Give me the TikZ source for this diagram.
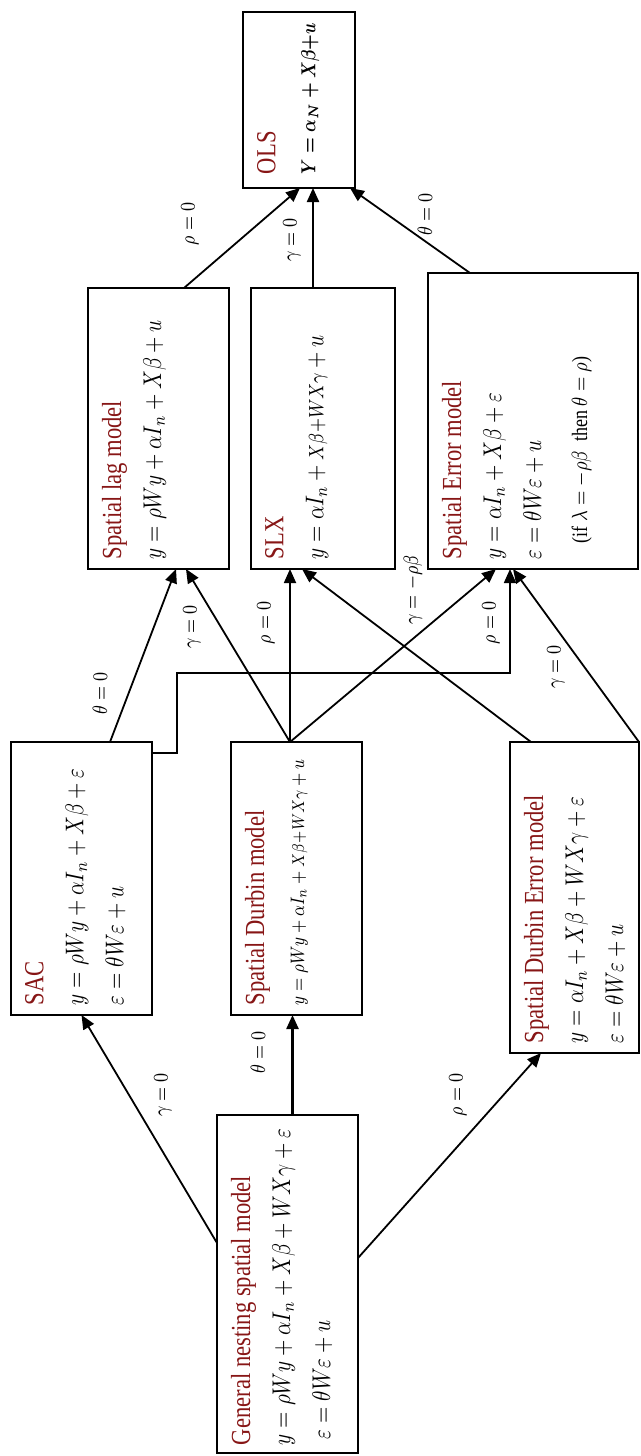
\RequirePackage{fix-cm}
\documentclass[tikz,border=0pt]{standalone}
\usepackage{fontspec}
\setmainfont{Liberation Serif}
\usetikzlibrary{arrows.meta,calc}
\definecolor{tred}{RGB}{135,22,22}
\newcommand{\vs}[1]{\scalebox{1}[1.22]{#1}}
\newcommand{\ttl}[1]{\vs{\fontsize{11.3}{20}\selectfont\color{tred}#1}}
\newcommand{\bx}[4]{\parbox[c][#2][t]{#1}{\raggedright\leftskip=#3\fontsize{10.5}{20}\selectfont\vspace*{7pt}#4}}
\newcommand{\cmpt}[1]{\mbox{\fontsize{8.5}{10}\selectfont$#1$}}
\tikzset{
  mbox/.style={draw, line width=1pt, rotate=90, inner sep=0pt, outer sep=0pt},
  arr/.style={-{Triangle[length=7pt,width=6pt]}, line width=0.9pt},
  lbl/.style={rotate=90, inner sep=1pt, font=\fontsize{8.5}{9}\selectfont}
}
\begin{document}
\begin{tikzpicture}[x=0.5pt,y=-0.5pt]
\useasboundingbox (0,0) rectangle (641,1456);
% boxes
\node[mbox] (ols) at (299,100) {\bx{88pt}{56pt}{7pt}{\ttl{OLS}\\ \vs{\fontsize{8.3}{20}\selectfont\boldmath$Y = \alpha_N + X\beta{+}u$}}};
\node[mbox] (lag) at (158.5,428.5) {\bx{140.5pt}{70.5pt}{5pt}{\ttl{Spatial lag model}\\ \vs{$y = \rho Wy + \alpha I_n + X\beta + u$}}};
\node[mbox] (slx) at (323,428.5) {\bx{140.5pt}{72pt}{5pt}{\ttl{SLX}\\ \vs{$y = \alpha I_n + \cmpt{X\beta{+}WX\gamma} + u$}}};
\node[mbox] (se) at (533,421) {\bx{148pt}{105pt}{5pt}{\ttl{Spatial Error model}\\ \vs{$y = \alpha I_n + X\beta + \varepsilon$}\\ \vs{$\varepsilon = \theta W\varepsilon + u$}\\[3pt] \hspace*{8pt}\vs{\fontsize{9}{20}\selectfont (if $\lambda = -\rho\beta$\ \ then $\theta = \rho$)}}};
\node[mbox] (sac) at (81.5,878.5) {\bx{136.5pt}{70.5pt}{5pt}{\ttl{SAC}\\ \vs{$y = \rho Wy + \alpha I_n + X\beta + \varepsilon$}\\ \vs{$\varepsilon = \theta W\varepsilon + u$}}};
\node[mbox] (dur) at (296.5,878.5) {\bx{136.5pt}{65.5pt}{5pt}{\ttl{Spatial Durbin model}\\ \vs{\fontsize{8}{20}\selectfont$y = \rho Wy + \alpha I_n + \mbox{\fontsize{7}{10}\selectfont$X\beta{+}WX\gamma$} + u$}}};
\node[mbox] (sdem) at (574.5,897.5) {\bx{155.5pt}{64.5pt}{5pt}{\ttl{Spatial Durbin Error model}\\ \vs{$y = \alpha I_n + X\beta + WX\gamma + \varepsilon$}\\ \vs{$\varepsilon = \theta W\varepsilon + u$}}};
\node[mbox] (gn) at (287.5,1284) {\bx{169pt}{70.5pt}{4pt}{\ttl{General nesting spatial model}\\ \vs{$y = \rho Wy + \alpha I_n + X\beta + WX\gamma + \varepsilon$}\\ \hspace*{3pt}\vs{$\varepsilon = \theta W\varepsilon + u$}}};
% connector end points
\coordinate (gnL) at ($(gn.north)+(0,-41)$);
\coordinate (gnT) at ($(gn.east)+(5,0)$);
\coordinate (gnR) at ($(gn.south)+(0,-26)$);
\coordinate (sacT) at ($(sac.east)+(28.5,0)$);
\coordinate (sacR) at ($(sac.south)+(0,-125.5)$);
\coordinate (durT) at ($(dur.east)+(-6.5,0)$);
\coordinate (sdemT) at ($(sdem.east)+(-43.5,0)$);
\coordinate (lagT) at ($(lag.east)+(25.5,0)$);
\coordinate (slxT) at ($(slx.east)+(-10,0)$);
\coordinate (seT) at ($(se.east)+(-63,0)$);
% connectors
\draw[arr] (gnL) -- (sac.west);
\draw[arr, line width=1.2pt] (gnT) -- (gnT |- dur.west);
\draw[arr] (gnR) -- ($(sdem.west)+(-33.5,0)$);
\draw[arr] (sacT) -- ($(lag.west)+(17.5,0)$);
\draw[arr] (sacR) -- ++(25,0) -- ++(0,-80) -| ($(se.west)+(-23,0)$);
\draw[arr] (durT) -- ($(lag.west)+(27.5,0)$);
\draw[arr] (durT) -- (durT |- slx.west);
\draw[arr] (durT) -- ($(se.west)+(-37,0)$);
\draw[arr] (sdemT) -- ($(slx.west)+(-21,0)$);
\draw[arr] (sdem.south east) -- ($(se.west)+(-20,0)$);
\draw[arr] (lagT) -- ($(ols.west)+(1,0)$);
\draw[arr, line width=1.1pt] (slxT) -- (slxT |- ols.west);
\draw[arr] (seT) -- ($(ols.west)+(51,0)$);
% labels
\node[lbl] (l1) at (190,224) {\vs{$\rho = 0$}};
\node[lbl] (l2) at (292,240) {\vs{$\gamma = 0$}};
\node[lbl] (l3) at (425,214) {\vs{$\theta = 0$}};
\node[lbl] (l4) at (100,693) {\vs{$\theta = 0$}};
\node[lbl] (l5) at (192,627) {\vs{$\gamma = 0$}};
\node[lbl] (l6) at (266,623) {\vs{$\rho = 0$}};
\node[lbl] (l7) at (413,590) {\vs{$\gamma = -\rho\beta$}};
\node[lbl] (l8) at (491,623) {\vs{$\rho = 0$}};
\node[lbl] (l9) at (556,667) {\vs{$\gamma = 0$}};
\node[lbl] (l10) at (163,1095) {\vs{$\gamma = 0$}};
\node[lbl] (l11) at (258,1052) {\vs{$\theta = 0$}};
\node[lbl] (l12) at (458,1095) {\vs{$\rho = 0$}};
\end{tikzpicture}
\end{document}
